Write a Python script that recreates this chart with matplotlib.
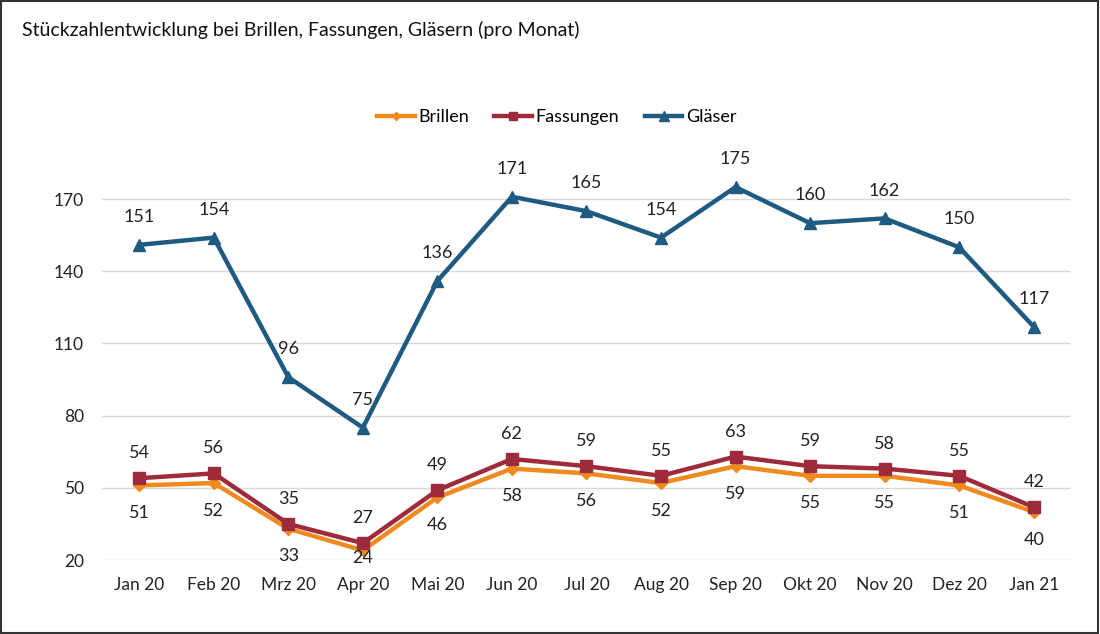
import matplotlib.pyplot as plt
from matplotlib.patches import Rectangle

months = ['Jan 20', 'Feb 20', 'Mrz 20', 'Apr 20', 'Mai 20', 'Jun 20', 'Jul 20',
          'Aug 20', 'Sep 20', 'Okt 20', 'Nov 20', 'Dez 20', 'Jan 21']
brillen = [51, 52, 33, 24, 46, 58, 56, 52, 59, 55, 55, 51, 40]
fassungen = [54, 56, 35, 27, 49, 62, 59, 55, 63, 59, 58, 55, 42]
glaeser = [151, 154, 96, 75, 136, 171, 165, 154, 175, 160, 162, 150, 117]
yticks = [20, 50, 80, 110, 140, 170]

plt.rcParams['font.family'] = ['Lato', 'DejaVu Sans']

fig = plt.figure(figsize=(11, 6.34), dpi=100)
ax = fig.add_axes([0.0927, 0.1167, 0.8809, 0.6451])

x = list(range(len(months)))
c_b, c_f, c_g = '#EE8A1E', '#9E2B3B', '#1F5A80'
txt = '#222222'

ax.plot(x, brillen, color=c_b, lw=3.2, marker='D', ms=6, label='Brillen')
ax.plot(x, fassungen, color=c_f, lw=3.2, marker='s', ms=8, label='Fassungen')
ax.plot(x, glaeser, color=c_g, lw=3.2, marker='^', ms=9, label='Gläser')

for i in x:
    ax.annotate(str(glaeser[i]), (i, glaeser[i]), xytext=(0, 20), textcoords='offset points',
                ha='center', va='center', fontsize=13, color=txt)
    ax.annotate(str(fassungen[i]), (i, fassungen[i]), xytext=(0, 18), textcoords='offset points',
                ha='center', va='center', fontsize=13, color=txt)
    # Brillen labels below, kept inside the plot area near the bottom
    ax.annotate(str(brillen[i]), (i, brillen[i]), xytext=(i, max(brillen[i] - 11.5, 21)),
                textcoords='data', ha='center', va='center', fontsize=13, color=txt)

ax.set_xlim(-0.5, len(months) - 0.5)
ax.set_ylim(20, 190)
ax.set_yticks(yticks)
ax.set_xticks(x)
ax.set_xticklabels(months)
ax.tick_params(axis='both', length=0, labelsize=12.5, colors=txt)
ax.tick_params(axis='y', pad=13)
ax.tick_params(axis='x', pad=12)
ax.grid(axis='y', color='#D9D9D9', lw=1)
ax.set_axisbelow(True)
for s in ax.spines.values():
    s.set_visible(False)

fig.text(0.02, 0.953, 'Stückzahlentwicklung bei Brillen, Fassungen, Gläsern (pro Monat)',
         fontsize=14, ha='left', va='center', color='#111111')
fig.legend(loc='center', bbox_to_anchor=(0.506, 0.815), ncol=3, frameon=False,
           fontsize=13, handlelength=2.1, columnspacing=1.4, handletextpad=0.2,
           markerscale=0.75)

fig.patches.append(Rectangle((0.001, 0.001), 0.997, 0.997, transform=fig.transFigure,
                             fill=False, edgecolor='#333333', lw=1.5))

fig.savefig('out.png', dpi=100)
